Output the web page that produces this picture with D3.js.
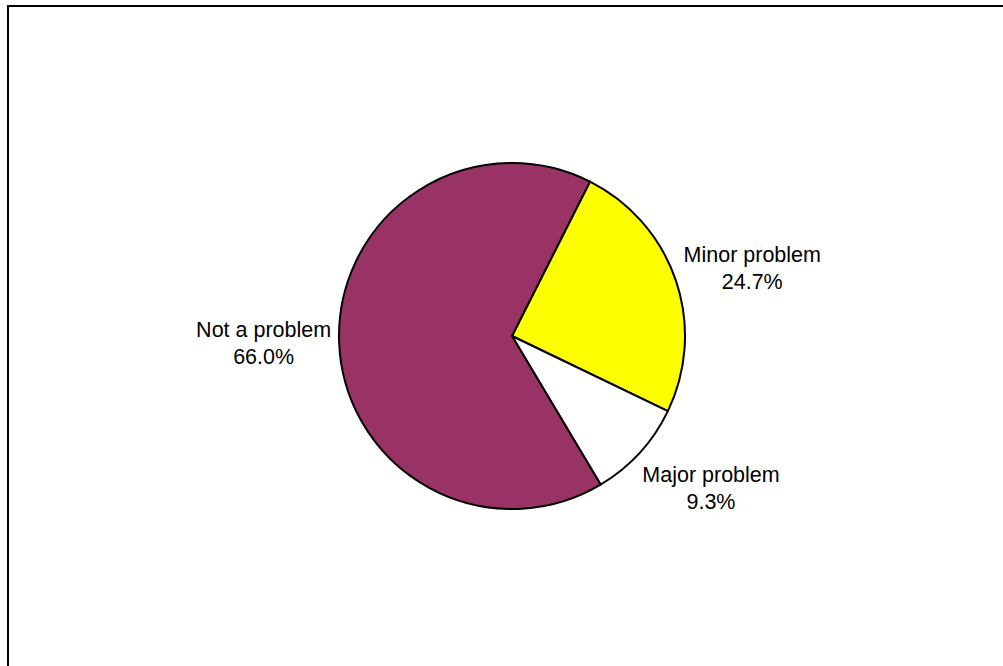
<!DOCTYPE html>
<html>
<head>
<meta charset="utf-8">
<script src="https://cdn.jsdelivr.net/npm/d3@7"></script>
<style>
  body { margin: 0; background: #fff; }
  svg { display: block; }
  text { font-family: "Liberation Sans", Arial, sans-serif; font-size: 21.5px; fill: #000; }
</style>
</head>
<body>
<svg id="chart"></svg>
<script>
// slices in drawing order (clockwise)
const categories = ["Minor problem", "Major problem", "Not a problem"];
const values = [24.7, 9.3, 66.0];
const colors = ["#ffff00", "#ffffff", "#993366"];

const width = 1003;
const height = 666;
const cx = 512, cy = 336;
const radius = 173;
const line_gap = 27;
// distance between pie edge and label box, per slice
const label_gaps = [12, 28, 8];

const svg = d3.select("#chart")
	.attr("width", width)
	.attr("height", height);

// outer frame (runs off the right and bottom edges)
svg.append("rect")
	.attr("x", 8)
	.attr("y", 6)
	.attr("width", 1100)
	.attr("height", 800)
	.style("fill", "none")
	.style("stroke", "black")
	.style("stroke-width", 2);

const data = categories.map((c, i) => ({ name: c, value: values[i], color: colors[i], gap: label_gaps[i] }));

const pie = d3.pie()
	.sort(null)
	.value(d => d.value)
	.startAngle(26.8 * Math.PI / 180)
	.endAngle(26.8 * Math.PI / 180 + 2 * Math.PI);

const arc = d3.arc().innerRadius(0).outerRadius(radius);

const g = svg.append("g").attr("transform", "translate(" + cx + "," + cy + ")");

const arcs = pie(data);

g.selectAll("path.slice")
	.data(arcs)
	.join("path")
	.attr("class", "slice")
	.attr("d", arc)
	.style("fill", d => d.data.color)
	.style("stroke", "black")
	.style("stroke-width", 2)
	.style("stroke-linejoin", "round");

const labels = g.selectAll("text.lbl")
	.data(arcs)
	.join("text")
	.attr("class", "lbl")
	.attr("text-anchor", "middle");

labels.append("tspan")
	.attr("x", 0)
	.attr("y", 0)
	.text(d => d.data.name);

labels.append("tspan")
	.attr("x", 0)
	.attr("y", line_gap)
	.text(d => d.data.value.toFixed(1) + "%");

// place each label box just outside the pie, along the slice's mid angle
labels.each(function(d) {
	const box = this.getBBox();
	const a = (d.startAngle + d.endAngle) / 2;
	const r = radius + d.data.gap;
	const ax = r * Math.sin(a), ay = -r * Math.cos(a);
	const tx = ax + box.width / 2 * Math.sin(a);
	const ty = ay - box.height / 2 * Math.cos(a);
	const bx = box.x + box.width / 2, by = box.y + box.height / 2;
	d3.select(this).attr("transform", "translate(" + (tx - bx) + "," + (ty - by) + ")");
});
</script>
</body>
</html>
